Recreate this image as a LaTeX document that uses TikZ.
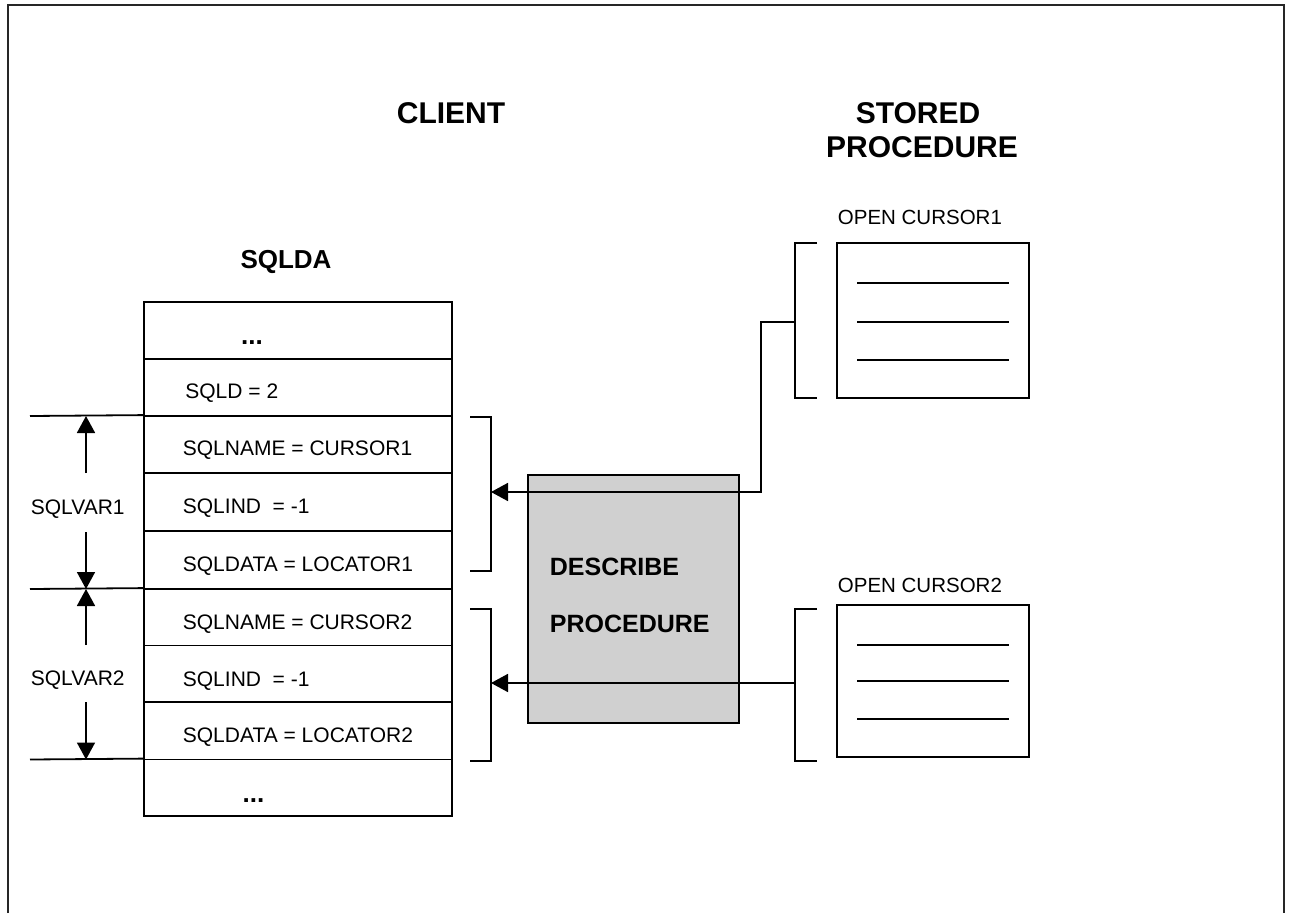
\documentclass[tikz,border=0pt]{standalone}
\usepackage{fontspec}
\setmainfont{Liberation Sans}
\usetikzlibrary{arrows.meta}
\definecolor{descgray}{RGB}{208,208,208}
\begin{document}
\begin{tikzpicture}[x=1pt,y=-1pt, line width=1.8pt,
  body/.style={font=\fontsize{21}{25}\selectfont, inner sep=0pt, anchor=base west},
  small/.style={font=\fontsize{20.5}{25}\selectfont, inner sep=0pt, anchor=base west},
  head/.style={font=\fontsize{30}{34}\selectfont\bfseries, inner sep=0pt, anchor=base},
  sub/.style={font=\fontsize{26}{30}\selectfont\bfseries, inner sep=0pt, anchor=base},
  desctext/.style={font=\fontsize{25}{30}\selectfont\bfseries, inner sep=0pt, anchor=base west},
  dots/.style={font=\fontsize{26}{30}\selectfont\bfseries, inner sep=0pt, anchor=base},
  rowbox/.style={draw, minimum width=308pt, inner sep=0pt},
  curbox/.style={draw, minimum width=192pt, inner sep=0pt},
  tip/.style={-{Triangle[width=18pt,length=17pt]}},
]
\useasboundingbox (0,0) rectangle (1290,913);
% frame
\draw[line width=2.5pt, black!85] (8,913) -- (8,5) -- (1284,5) -- (1284,913);

% headings
\node[head] (client) at (451,123) {CLIENT};
\node[head] (stored) at (918,123) {STORED};
\node[head] (proc) at (922,157.5) {PROCEDURE};
\node[sub] (sqlda) at (286,268) {SQLDA};

% SQLDA table
\node[rowbox, minimum height=57pt] (r1) at (298,330.5) {};
\node[rowbox, minimum height=57pt] (r2) at (298,387.5) {};
\node[rowbox, minimum height=57pt] (r3) at (298,444.5) {};
\node[rowbox, minimum height=58pt] (r4) at (298,502) {};
\node[rowbox, minimum height=58pt] (r5) at (298,560) {};
\node[rowbox, minimum height=56.5pt] (r6) at (298,617.25) {};
\node[rowbox, minimum height=56.5pt] (r7) at (298,673.75) {};
\node[rowbox, minimum height=57.5pt] (r8) at (298,730.75) {};
\node[rowbox, minimum height=56.5pt] (r9) at (298,787.75) {};

\node[dots] (d1) at (252,344) {...};
\node[body] (t2) at (184.5,398.3) {SQLD = 2};
\node[body] (t3) at (182,455.7) {SQLNAME = CURSOR1};
\node[body] (t4) at (182,513.3) {SQLIND\ \ = -1};
\node[body] (t5) at (182,571.7) {SQLDATA = LOCATOR1};
\node[body] (t6) at (182,629.3) {SQLNAME = CURSOR2};
\node[body] (t7) at (182,686.7) {SQLIND\ \ = -1};
\node[body] (t8) at (182,742.7) {SQLDATA = LOCATOR2};
\node[dots] (d9) at (253.5,802) {...};

% extension lines
\coordinate (e1) at (30,416);
\coordinate (e2) at (30,589);
\coordinate (e3) at (30,759.5);
\draw (e1) -- (r3.north west);
\draw (e2) -- (r6.north west);
\draw (e3) -- (r9.north west);

% dimension arrows
\coordinate (v1s) at (86,473);
\coordinate (v1t) at (86,416);
\coordinate (v2s) at (86,532);
\coordinate (v2t) at (86,589);
\coordinate (v3s) at (86,645);
\coordinate (v3t) at (86,589);
\coordinate (v4s) at (86,702);
\coordinate (v4t) at (86,759.5);
\draw[tip] (v1s) -- (v1t);
\draw[tip] (v2s) -- (v2t);
\draw[tip] (v3s) -- (v3t);
\draw[tip] (v4s) -- (v4t);
\node[body] (var1) at (30,514.3) {SQLVAR1};
\node[body] (var2) at (30,685) {SQLVAR2};

% table brackets
\draw (470,417) -- (491,417) -- (491,571) -- (470,571);
\draw (470,609) -- (491,609) -- (491,761) -- (470,761);
\coordinate (tb1) at (491,492);
\coordinate (tb2) at (491,683);

% describe box
\node[draw, fill=descgray, minimum width=211pt, minimum height=248pt, inner sep=0pt] (desc) at (633.5,599) {};
\node[desctext] (dt1) at (549,575) {DESCRIBE};
\node[desctext] (dt2) at (549,632.7) {PROCEDURE};

% cursor 1
\node[small] (oc1) at (837,224) {OPEN CURSOR1};
\node[curbox, minimum height=155pt] (c1) at (933,320.5) {};
\draw (857,283) -- (1009,283);
\draw (857,322) -- (1009,322);
\draw (857,360) -- (1009,360);
\draw (817,243) -- (795,243) -- (795,398) -- (817,398);
\coordinate (cb1) at (795,322);

% cursor 2
\node[small] (oc2) at (837,592.7) {OPEN CURSOR2};
\node[curbox, minimum height=152pt] (c2) at (933,681) {};
\draw (857,645) -- (1009,645);
\draw (857,681) -- (1009,681);
\draw (857,719) -- (1009,719);
\draw (817,609) -- (795,609) -- (795,761) -- (817,761);
\coordinate (cb2) at (795,683);

% connectors
\draw[tip] (cb1) -| (761,492) -- (tb1);
\draw[tip] (cb2) -- (tb2);
\end{tikzpicture}
\end{document}
